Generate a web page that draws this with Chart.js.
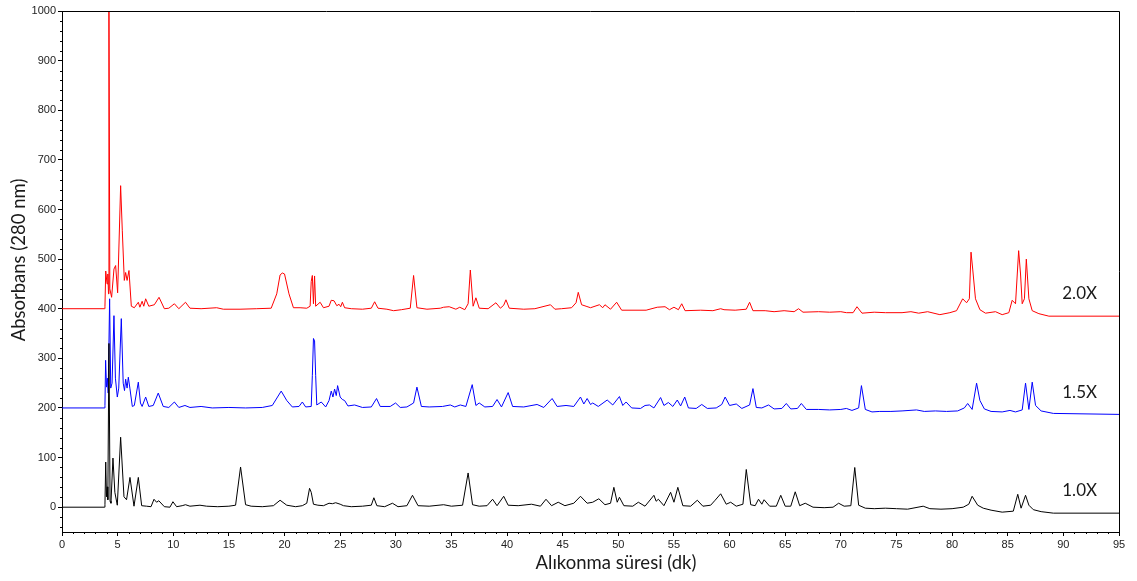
<!DOCTYPE html>
<html>
<head>
<meta charset="utf-8">
<script src="https://cdn.jsdelivr.net/npm/chart.js@4.4.0/dist/chart.umd.min.js"></script>
<style>
  body { margin: 0; background: #fff; }
  #wrap { width: 1137px; height: 581px; }
</style>
</head>
<body>
<div id="wrap"><canvas id="grafik" width="1137" height="581"></canvas></div>
<script>
// tick labels
var xTicks = [0, 5, 10, 15, 20, 25, 30, 35, 40, 45, 50, 55, 60, 65, 70, 75, 80, 85, 90, 95]
var yTicks = [0, 100, 200, 300, 400, 500, 600, 700, 800, 900, 1000]

// series names
var etiketler = ['1.0X', '1.5X', '2.0X']

// [dakika, absorbans]
var seri10 = [[0,0],[3.8,0],[3.86,5],[3.93,91],[4.0,21],[4.07,41],[4.12,15],[4.22,330],[4.32,12],[4.4,8],[4.58,99],[4.75,30],[4.97,4],[5.27,141],[5.57,21],[5.8,15],[6.11,60],[6.47,2],[6.86,60],[7.16,3],[7.6,2],[8.0,1],[8.27,16],[8.5,10],[8.7,13],[9.2,1],[9.7,0],[9.97,11],[10.3,1],[10.8,3],[11.1,5],[11.5,2],[12.4,4],[13.0,2],[14.0,1],[15.0,2],[15.6,4],[16.05,81],[16.5,5],[17.0,2],[18.0,1],[19.0,3],[19.6,14],[20.2,4],[21.0,1],[21.6,3],[22.0,8],[22.25,38],[22.4,30],[22.6,6],[23.0,4],[23.5,3],[24.0,8],[24.3,7],[24.6,9],[25.0,6],[25.3,3],[26.0,1],[27.0,2],[27.8,4],[28.03,19],[28.3,3],[29.0,1],[29.7,8],[30.2,1],[31.0,3],[31.5,24],[32.0,3],[33.0,2],[34.3,5],[35.0,2],[36.0,4],[36.5,69],[36.9,5],[37.5,2],[38.2,3],[38.7,16],[39.1,3],[39.7,22],[40.1,4],[41.0,3],[42.2,6],[43.0,2],[43.5,16],[44.0,3],[44.6,10],[45.2,3],[46.0,8],[46.6,22],[47.2,8],[47.7,10],[48.25,17],[48.8,5],[49.3,8],[49.6,40],[49.9,10],[50.1,20],[50.5,3],[51.3,2],[51.8,10],[52.4,2],[53.2,24],[53.4,12],[53.6,16],[54.1,3],[54.7,30],[55.0,10],[55.35,40],[55.8,3],[56.5,2],[57.1,14],[57.6,2],[58.3,4],[58.7,14],[59.2,27],[59.7,6],[60.1,10],[60.6,2],[61.2,6],[61.5,76],[61.9,5],[62.3,3],[62.6,16],[62.9,6],[63.1,15],[63.6,2],[64.2,2],[64.6,24],[65.0,2],[65.5,2],[65.9,31],[66.3,3],[66.8,8],[67.5,0],[68.5,-1],[69.3,0],[69.8,8],[70.3,2],[70.9,3],[71.25,80],[71.6,4],[72.2,-2],[73.0,-3],[74.0,-2],[75.0,-3],[76.0,-4],[77.4,2],[78.0,-3],[79.0,-4],[80.0,-3],[81.0,0],[81.5,6],[81.8,22],[82.3,4],[82.8,-2],[83.5,-6],[84.5,-10],[85.5,-8],[85.9,26],[86.2,-2],[86.6,24],[86.9,4],[87.3,-5],[88.0,-9],[89.1,-12],[95,-12]]

var seri15 = [[0,200],[3.8,200],[3.86,205],[3.92,296],[4.0,242],[4.08,260],[4.15,230],[4.28,420],[4.38,240],[4.5,250],[4.67,386],[4.8,260],[4.97,222],[5.1,240],[5.33,380],[5.5,250],[5.62,235],[5.72,258],[5.85,240],[5.96,262],[6.1,240],[6.32,203],[6.5,205],[6.86,252],[7.05,210],[7.2,203],[7.52,222],[7.8,203],[8.2,205],[8.65,230],[9.1,203],[9.6,201],[10.1,212],[10.5,201],[11.05,205],[11.5,201],[12.5,203],[13.5,200],[15.0,201],[16.5,200],[18.0,201],[18.9,205],[19.7,234],[20.2,215],[20.7,202],[21.3,203],[21.6,212],[21.9,202],[22.4,203],[22.5,265],[22.6,340],[22.7,335],[22.8,265],[22.9,206],[23.3,212],[23.7,202],[24.0,215],[24.2,234],[24.35,222],[24.5,238],[24.65,225],[24.77,245],[25.0,222],[25.2,217],[25.4,215],[25.7,204],[26.3,206],[27.0,201],[27.8,202],[28.27,219],[28.6,203],[29.5,203],[29.98,210],[30.4,201],[31.0,202],[31.6,210],[31.9,242],[32.3,203],[33.0,202],[34.2,203],[34.9,206],[35.3,202],[35.8,206],[36.3,203],[36.87,247],[37.2,205],[37.5,210],[38.0,202],[38.7,203],[39.1,217],[39.5,202],[40.1,231],[40.5,203],[41.5,202],[42.7,207],[43.3,201],[44.05,219],[44.5,203],[45.3,205],[46.0,203],[46.6,222],[46.9,208],[47.2,219],[47.5,207],[47.7,210],[48.2,203],[49.0,216],[49.5,206],[50.1,223],[50.4,205],[50.7,212],[51.2,200],[52.0,199],[52.4,205],[52.8,206],[53.2,200],[53.8,221],[54.1,205],[54.5,211],[54.9,203],[55.3,216],[55.6,204],[55.97,222],[56.3,200],[57.0,199],[57.5,207],[58.0,199],[58.8,200],[59.3,207],[59.6,222],[60.0,205],[60.6,208],[61.1,199],[61.8,206],[62.1,239],[62.4,201],[62.9,200],[63.5,206],[64.0,198],[64.7,199],[65.1,209],[65.5,198],[66.1,199],[66.45,209],[66.9,197],[68.0,197],[69.0,196],[70.0,197],[70.5,199],[71.0,195],[71.6,200],[71.85,245],[72.2,197],[72.8,192],[73.5,193],[74.5,193],[75.5,194],[76.8,196],[77.5,193],[78.5,194],[79.5,193],[80.5,194],[81.1,200],[81.4,209],[81.8,197],[82.2,250],[82.5,215],[82.9,198],[83.5,193],[84.5,192],[85.2,195],[85.7,192],[86.3,196],[86.6,250],[86.9,197],[87.2,252],[87.5,205],[88.0,194],[89.1,189],[95,187]]

var seri20 = [[0,400],[3.8,400],[3.86,404],[3.93,476],[4.05,450],[4.12,470],[4.18,430],[4.22,1000],[4.3,440],[4.46,423],[4.67,480],[4.82,487],[5.0,432],[5.27,648],[5.42,557],[5.6,457],[5.72,473],[5.85,457],[6.02,477],[6.23,405],[6.5,402],[6.86,413],[7.0,403],[7.2,415],[7.35,405],[7.52,420],[7.8,405],[8.3,408],[8.72,423],[9.2,400],[9.6,401],[10.1,410],[10.5,400],[11.1,413],[11.5,401],[12.5,400],[13.9,402],[14.5,399],[16.0,399],[17.5,400],[18.8,401],[19.3,430],[19.6,468],[19.8,472],[20.0,470],[20.4,430],[20.8,402],[21.4,402],[22.0,401],[22.3,405],[22.4,455],[22.5,467],[22.6,410],[22.7,466],[22.8,405],[23.2,413],[23.5,402],[24.0,405],[24.2,417],[24.45,416],[24.7,406],[24.9,409],[25.05,404],[25.2,413],[25.4,402],[26.0,400],[27.0,399],[27.8,401],[28.1,414],[28.4,401],[29.2,399],[29.8,396],[30.5,398],[31.3,401],[31.6,467],[31.9,402],[32.8,399],[34.0,401],[34.3,403],[34.8,404],[35.4,399],[35.75,403],[36.2,398],[36.5,410],[36.7,478],[36.95,405],[37.2,422],[37.5,401],[38.3,400],[39.0,412],[39.4,401],[39.7,407],[39.9,418],[40.2,401],[41.5,399],[42.5,400],[43.9,408],[44.3,399],[44.9,400],[45.8,402],[46.2,412],[46.4,433],[46.7,408],[47.1,405],[47.5,402],[48.3,408],[48.6,402],[48.8,408],[49.3,399],[49.85,413],[50.3,397],[51.5,397],[52.5,397],[53.5,403],[54.2,404],[54.6,398],[55.0,403],[55.4,398],[55.7,410],[56.0,396],[57.4,397],[58.5,396],[59.2,400],[59.5,398],[60.5,397],[61.5,399],[61.8,413],[62.1,396],[63.2,396],[64.0,394],[64.9,396],[65.8,394],[66.2,400],[66.6,393],[68.0,394],[69.0,393],[70.0,394],[70.5,392],[71.1,392],[71.45,404],[71.9,391],[73.0,393],[74.0,392],[75.5,392],[76.3,394],[77.0,391],[77.8,394],[78.9,388],[79.8,392],[80.4,396],[80.95,420],[81.3,412],[81.55,420],[81.7,514],[81.85,480],[82.1,420],[82.5,398],[83.0,391],[83.9,394],[84.5,388],[85.1,392],[85.4,417],[85.7,410],[85.98,517],[86.15,470],[86.3,410],[86.5,420],[86.67,500],[86.9,420],[87.2,396],[87.8,390],[88.7,385],[95,385]]

var seriler = [seri10, seri15, seri20]
var renkler = ['#000000', '#0000ff', '#ff0000']

function noktalar(s){
	return s.map(function(p){ return {x: p[0], y: p[1]} })
}

/* cerceve, ara ciziklar, etiketler ve eksen basliklari */
var ekstra = {
	id: 'ekstra',
	afterDraw: function(chart){
		var c = chart.ctx
		var a = chart.chartArea
		var sx = chart.scales.x
		var sy = chart.scales.y
		c.save()
		c.strokeStyle = '#000'
		c.lineWidth = 1
		c.beginPath()
		c.moveTo(a.left, Math.round(a.top) + 0.5)
		c.lineTo(Math.round(a.right) + 0.5, Math.round(a.top) + 0.5)
		c.lineTo(Math.round(a.right) + 0.5, a.bottom)
		c.stroke()

		c.beginPath()
		for (var t = 0; t <= 95; t++) {
			if (t % 5 === 0) continue
			var px = Math.round(sx.getPixelForValue(t)) + 0.5
			c.moveTo(px, a.bottom)
			c.lineTo(px, a.bottom + 2)
		}
		for (var v = -40; v <= 980; v += 20) {
			if (v % 100 === 0) continue
			var py = Math.round(sy.getPixelForValue(v)) + 0.5
			c.moveTo(a.left - 2, py)
			c.lineTo(a.left, py)
		}
		c.stroke()

		c.fillStyle = '#1a1a1a'
		c.font = '17px Lato'
		c.textBaseline = 'middle'
		c.textAlign = 'left'
		seriler.forEach(function(s, i){
			var son = s[s.length - 1][1]
			c.fillText(etiketler[i], sx.getPixelForValue(89.9), sy.getPixelForValue(son + 45))
		})

		c.font = '18.5px Lato'
		c.textAlign = 'center'
		c.fillText('Alıkonma süresi (dk)', 616, 563)
		c.translate(19, 260)
		c.rotate(-Math.PI / 2)
		c.fillText('Absorbans (280 nm)', 0, 0)
		c.restore()
	}
}

var ctx = document.getElementById('grafik').getContext('2d')
window.grafik = new Chart(ctx, {
	type: 'line',
	data: {
		datasets: seriler.map(function(s, i){
			return {
				label: etiketler[i],
				data: noktalar(s),
				borderColor: renkler[i],
				borderWidth: 1,
				pointRadius: 0,
				tension: 0,
				fill: false
			}
		})
	},
	options: {
		responsive: false,
		animation: false,
		devicePixelRatio: 1,
		layout: { padding: { top: 11, right: 18, left: 0, bottom: 0 } },
		plugins: {
			legend: { display: false },
			tooltip: { enabled: false }
		},
		scales: {
			x: {
				type: 'linear',
				min: 0,
				max: 95,
				afterBuildTicks: function(s){ s.ticks = xTicks.map(function(v){ return {value: v} }) },
				afterFit: function(s){ s.height = 49 },
				grid: { drawOnChartArea: false, tickLength: 4, color: '#000' },
				border: { color: '#000', width: 1 },
				ticks: { font: { family: 'Liberation Sans', size: 11 }, color: '#222', padding: 2, maxRotation: 0,
					callback: function(v){ return String(v) } }
			},
			y: {
				min: -50,
				max: 1000,
				afterBuildTicks: function(s){ s.ticks = yTicks.map(function(v){ return {value: v} }) },
				afterFit: function(s){ s.width = 62 },
				grid: { drawOnChartArea: false, tickLength: 4, color: '#000' },
				border: { color: '#000', width: 1 },
				ticks: { font: { family: 'Liberation Sans', size: 11 }, color: '#222', padding: 2,
					callback: function(v){ return String(v) } }
			}
		}
	},
	plugins: [ekstra]
})
</script>
</body>
</html>
